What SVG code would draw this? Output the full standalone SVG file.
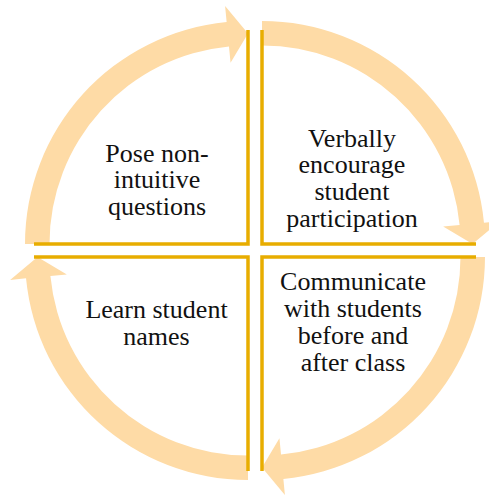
<svg xmlns="http://www.w3.org/2000/svg" xmlns:xlink="http://www.w3.org/1999/xlink" width="489" height="496" viewBox="0 0 489 496">
<style>
.band{fill:#FEDBA6;stroke:none}
.edge{fill:none;stroke:#E8AD00;stroke-width:3.5;stroke-linejoin:miter}
text{font-family:'Liberation Serif','Times New Roman','DejaVu Serif','Noto Serif',Times,serif;font-size:26px;fill:#111;text-anchor:middle}
</style>
<defs>
<path id="arr" class="band" d="M -223 0 A 223 223 0 0 1 -21.37 -221.97 L -22.9 -237.9 L 0 -210.5 L -17.44 -181.16 L -19.02 -197.59 A 198.5 198.5 0 0 0 -198.5 0 Z"/>
</defs>
<rect width="489" height="496" fill="#ffffff"/>
<g id="connectors">
<use xlink:href="#arr" href="#arr" transform="translate(248,244)"/>
<use xlink:href="#arr" href="#arr" transform="translate(262,244) rotate(90)"/>
<use xlink:href="#arr" href="#arr" transform="translate(262,257) rotate(180)"/>
<use xlink:href="#arr" href="#arr" transform="translate(248,257) rotate(270)"/>
</g>
<g id="node-tl">
<path class="edge" d="M 34 244 L 248 244 L 248 30"/>
<text x="157" y="161.5" style="font-family:'Liberation Serif',serif">Pose non-</text>
<text x="157" y="188" style="font-family:'Liberation Serif',serif">intuitive</text>
<text x="157" y="214.5" style="font-family:'Liberation Serif',serif">questions</text>
</g>
<g id="node-tr">
<path class="edge" d="M 262 30 L 262 244 L 476 244"/>
<text x="352" y="146.5">Verbally</text>
<text x="352" y="173">encourage</text>
<text x="352" y="199.5">student</text>
<text x="352" y="226.5">participation</text>
</g>
<g id="node-br">
<path class="edge" d="M 476 257 L 262 257 L 262 471"/>
<text x="353" y="290">Communicate</text>
<text x="353" y="317">with students</text>
<text x="353" y="344">before and</text>
<text x="353" y="371">after class</text>
</g>
<g id="node-bl">
<path class="edge" d="M 248 471 L 248 257 L 34 257"/>
<text x="156.5" y="318">Learn student</text>
<text x="156.5" y="344.5">names</text>
</g>
</svg>
